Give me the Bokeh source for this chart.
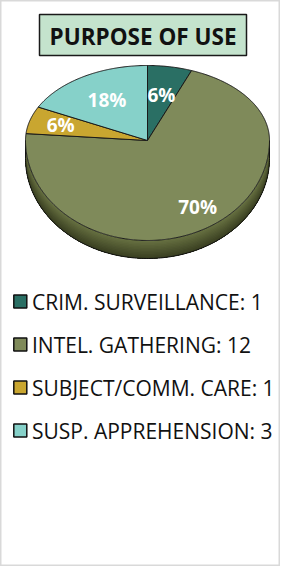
import numpy as np
from bokeh.plotting import figure
from bokeh.models import Range1d
from bokeh.core.properties import value
from bokeh.embed import file_html
from bokeh.resources import INLINE

# ---- data ----
categories = ["CRIM. SURVEILLANCE", "INTEL. GATHERING", "SUBJECT/COMM. CARE", "SUSP. APPREHENSION"]
counts = [1, 12, 1, 3]
pct_labels = ["6%", "70%", "6%", "18%"]
colors = ["#2a6f64", "#7f8a5a", "#c9a630", "#86d1c9"]
title_text = "PURPOSE OF USE"

# ---- layout constants (pixel space of the page) ----
W, H = 280, 566
X0, Y0 = 8, 8
CX, CY = 155, 148
RX, RY_BACK, RY_FRONT = 122, 75, 100
DEPTH = 18
label_frac = [0.62, 0.78, 0.74, 0.63]
FONT = "Open Sans"


def edge(theta_deg):
    t = np.radians(theta_deg)
    ry = np.where(np.cos(t) >= 0, RY_BACK, RY_FRONT)
    return CX + RX * np.sin(t), CY - ry * np.cos(t)


p = figure(width=W, height=H, output_backend="svg", toolbar_location=None,
           x_range=Range1d(X0, X0 + W), y_range=Range1d(Y0 + H, Y0),
           min_border=0, background_fill_color="white", border_fill_color="white")
p.axis.visible = False
p.grid.visible = False
p.outline_line_color = "#d9d9d9"
p.outline_line_width = 2

# ---- title box ----
p.quad(left=[47], right=[254], top=[22], bottom=[63], fill_color="#c4e3cd",
       line_color="#1a1a1a", line_width=1.5)
p.text(x=[150.5], y=[43.5], text=[title_text], text_align="center", text_baseline="middle",
       text_font=value(FONT), text_font_style="bold", text_font_size="22.5px", text_color="#111111")

# ---- slice angles (clockwise from 12 o'clock) ----
total = float(sum(counts))
ends = np.cumsum(counts) / total * 360.0
starts = np.concatenate([[0.0], ends[:-1]])

# ---- 3D side (visible front half) ----
side_start, side_end = 90.0, 270.0
th = np.linspace(side_start, side_end, 160)
ex, ey = edge(th)
nb = 12
c_top = np.array([0x66, 0x70, 0x41])
c_bot = np.array([0x3a, 0x40, 0x22])
band_xs, band_ys, band_cols = [], [], []
for k in range(nb):
    d0 = DEPTH * k / nb
    band_xs.append(list(ex) + list(ex[::-1]))
    band_ys.append(list(ey + d0) + list((ey + DEPTH)[::-1]))
    c = c_top + (c_bot - c_top) * (k / (nb - 1))
    band_cols.append("#%02x%02x%02x" % tuple(int(v) for v in c))
p.patches(band_xs, band_ys, fill_color=band_cols, line_color=None)
p.line(ex, ey + DEPTH, line_color="#111111", line_width=1)
lx, ly = edge(np.array([side_start, side_end]))
p.segment(x0=lx, y0=ly, x1=lx, y1=ly + DEPTH, line_color="#111111", line_width=1)

# ---- top face slices ----
xs, ys = [], []
for s, e in zip(starts, ends):
    t = np.linspace(s, e, max(8, int((e - s) * 2)))
    px, py = edge(t)
    xs.append([CX] + list(px))
    ys.append([CY] + list(py))
p.patches(xs, ys, fill_color=colors, line_color="#1a1a1a", line_width=1)

# ---- percentage labels ----
mids = (starts + ends) / 2
mx, my = edge(mids)
lab_x = CX + (mx - CX) * np.array(label_frac)
lab_y = CY + (my - CY) * np.array(label_frac)
p.text(x=lab_x, y=lab_y, text=pct_labels, text_align="center", text_baseline="middle",
       text_font=value(FONT), text_font_style="bold", text_font_size="19px", text_color="white")

# ---- legend ----
ROW0, ROW_STEP = 309, 43
rows = [ROW0 + i * ROW_STEP for i in range(len(categories))]
leg_text = ["%s: %d" % (c, n) for c, n in zip(categories, counts)]
p.rect(x=[27.8] * len(rows), y=rows, width=13, height=13, width_units="screen",
       height_units="screen", fill_color=colors, line_color="#111111", line_width=1.5)
p.text(x=[39.5] * len(rows), y=[r + 0.5 for r in rows], text=leg_text, text_align="left",
       text_baseline="middle", text_font=value(FONT), text_font_size="21px", text_color="#111111")

open("out.html", "w").write(file_html(p, INLINE))
